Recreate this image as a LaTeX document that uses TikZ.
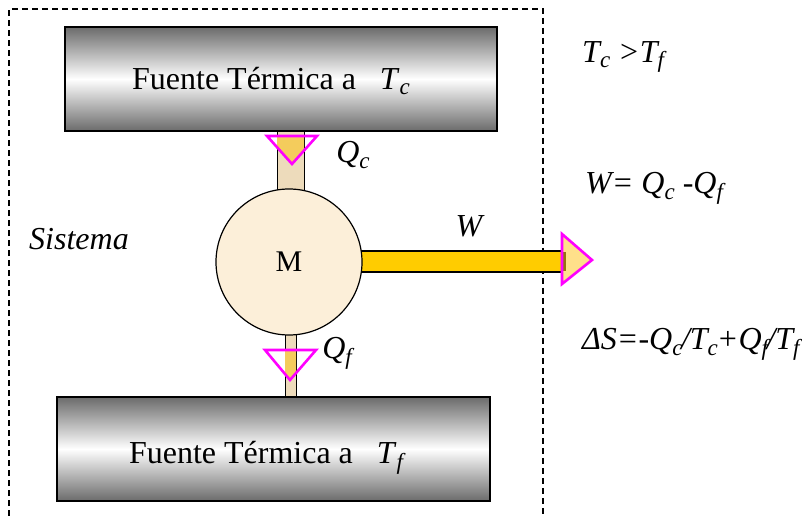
\documentclass[tikz,border=0pt]{standalone}
\usepackage{fontspec}
\setmainfont{Liberation Serif}
\newcommand\sbx[1]{\raisebox{-0.18em}{\fontsize{23}{23}\selectfont\itshape #1}}
\definecolor{cream}{HTML}{FCEFD9}
\definecolor{pipetan}{HTML}{EDDBBB}
\definecolor{gold}{HTML}{F4CC5C}
\definecolor{wbar}{HTML}{FFCC00}
\definecolor{headfill}{HTML}{FFE08A}
\definecolor{mag}{HTML}{FF00FF}
\begin{document}
\begin{tikzpicture}[x=1pt,y=-1pt,
  heatbox/.style={draw=black, line width=1.6pt, top color=black!58, bottom color=black!58, middle color=white, minimum width=432pt, minimum height=104pt, inner sep=0pt},
  pipe/.style={draw=black, line width=0.9pt, fill=pipetan},
  tri/.style={draw=mag, line width=2.6pt, line join=miter},
  lbl/.style={font=\fontsize{32}{36}\selectfont\itshape, inner sep=0pt},
  txt/.style={font=\fontsize{32}{36}\selectfont, inner sep=0pt},
  eq/.style={font=\fontsize{32}{36}\selectfont\itshape, inner sep=0pt, anchor=west}]
\useasboundingbox (0,0) rectangle (809,516);
% system boundary
\draw[dashed, dash pattern=on 6pt off 4pt, line width=1.1pt] (9,516) -- (9,9) -- (543,9) -- (543,516);
% heat sources
\node[heatbox] (hot) at (281,79) {};
\node[heatbox, minimum width=433pt] (cold) at (273.5,449) {};
\node[txt] (hottxt) at (271,81) {Fuente Térmica a \ \ \textit{T}\sbx{c}};
\node[txt] (coldtxt) at (266,458) {Fuente Térmica a \ \ \textit{T}\sbx{f}};
% pipes
\draw[pipe] (277,0 |- hot.south) rectangle (304,200);
\draw[pipe] (285,320) rectangle (296,0 |- cold.north);
% work bar
\draw[draw=black, line width=1.2pt, fill=wbar] (350,251) rectangle (566,272);
% engine
\node[circle, draw=black, line width=1.2pt, fill=cream, minimum size=146pt, inner sep=0pt, font=\fontsize{30}{34}\selectfont] (M) at (289,262) {M};
% heat-in triangle
\begin{scope}
  \clip (277,131) rectangle (304,190);
  \fill[gold] (267,136) -- (317,136) -- (292,164) -- cycle;
\end{scope}
\draw[tri] (267,136) -- (317,136) -- (292,164) -- cycle;
% heat-out triangle
\begin{scope}
  \clip (285,330) rectangle (296,397);
  \fill[gold] (265,350) -- (316,350) -- (290,380) -- cycle;
\end{scope}
\draw[tri] (265,350) -- (316,350) -- (290,380) -- cycle;
% work arrow head
\fill[headfill] (562,234) -- (592,260) -- (562,284) -- cycle;
\fill[black!45!wbar!80!brown] (562,252) rectangle (566,271);
\draw[tri] (562,234) -- (592,260) -- (562,284) -- cycle;
% labels
\node[lbl] (qc) at (353,155) {Q\sbx{c}};
\node[lbl] (qf) at (337,353) {Q\sbx{f}};
\node[lbl] (w) at (469,226) {W};
\node[lbl] (sis) at (79,239) {Sistema};
% equations
\node[eq] (e1) at (582,57) {T\sbx{c} >T\sbx{f}};
\node[eq] (e2) at (585,188) {W= Q\sbx{c} -Q\sbx{f}};
\node[eq] (e3) at (582,344) {ΔS=-Q\sbx{c}\kern-1.5pt/T\sbx{c}\kern-1pt+Q\sbx{f}\kern-1.5pt/T\sbx{f}};
\end{tikzpicture}
\end{document}
